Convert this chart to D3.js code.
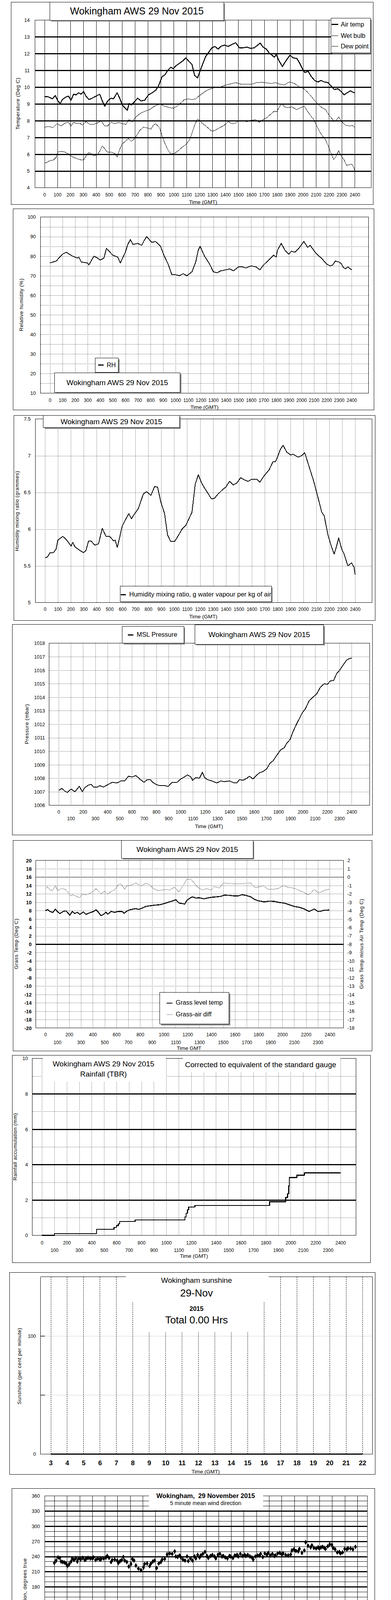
<!DOCTYPE html>
<html><head><meta charset="utf-8">
<script src="https://cdn.jsdelivr.net/npm/d3@7"></script>
<style>
html,body{margin:0;padding:0;background:#fff;overflow:hidden;}
svg{display:block;font-family:"Liberation Sans",Arial,Helvetica,sans-serif;}
</style></head><body>
<svg id="c" width="1000" height="5000"></svg>
<script>
// ======================= DATA =======================
const hundreds = d3.range(0, 2401, 100);            // time ticks 0..2400 (GMT, hhmm)
const titleAWS = "Wokingham AWS 29 Nov 2015";

// Panel 1: temperatures [time hhmm-ish, degC]
const airTemp = [[0,9.42],[23,9.44],[42,9.38],[62,9.3],[85,9.5],[104,9.18],[123,9.02],[139,9.26],[168,9.42],[187,9.46],[206,9.22],[226,9.58],[245,9.54],[264,9.66],[284,9.58],[303,9.74],[322,9.46],[345,9.26],[370,9.34],[399,9.46],[428,9.58],[448,9.18],[467,8.86],[490,9.18],[515,9.34],[534,9.3],[563,9.66],[583,9.34],[602,8.94],[621,8.78],[641,8.62],[656,9.02],[673,8.94],[698,9.14],[722,9.34],[747,9.18],[776,9.22],[805,9.54],[833,9.66],[862,9.82],[882,10.06],[911,10.63],[934,10.75],[953,10.99],[978,11.19],[997,11.1],[1017,11.27],[1046,11.43],[1075,11.59],[1094,11.75],[1117,11.55],[1142,11.35],[1162,10.7],[1185,10.55],[1200,10.87],[1223,11.35],[1248,11.83],[1273,12.1],[1296,12.35],[1319,12.43],[1344,12.27],[1364,12.43],[1393,12.51],[1422,12.43],[1451,12.55],[1480,12.65],[1508,12.35],[1538,12.35],[1566,12.39],[1596,12.31],[1624,12.35],[1644,12.47],[1669,12.63],[1692,12.39],[1717,12.27],[1740,12.03],[1760,11.91],[1779,11.79],[1794,11.95],[1814,11.59],[1841,11.23],[1860,11.47],[1885,11.75],[1900,11.91],[1924,11.75],[1953,11.71],[1972,11.47],[1995,11.11],[2015,10.87],[2040,10.95],[2065,10.63],[2092,10.39],[2117,10.31],[2141,10.4],[2165,10.31],[2194,10.27],[2219,10.06],[2242,9.86],[2271,9.9],[2296,9.74],[2319,9.54],[2342,9.66],[2367,9.78],[2386,9.7],[2400,9.66]];
const wetBulb = [[0,7.61],[33,7.65],[66,7.59],[96,7.82],[129,7.69],[162,7.86],[187,7.9],[206,7.69],[226,7.9],[255,7.82],[274,7.86],[293,7.73],[322,7.94],[351,7.78],[380,7.78],[409,7.86],[438,7.98],[467,7.69],[490,7.69],[515,7.9],[544,7.82],[573,7.9],[602,7.82],[631,7.78],[654,8.06],[679,7.94],[708,8.22],[747,8.46],[785,8.58],[814,8.66],[843,8.82],[872,8.94],[901,8.98],[930,8.86],[968,8.78],[997,8.74],[1026,8.86],[1055,9.06],[1084,9.26],[1113,9.3],[1142,9.26],[1171,9.3],[1200,9.5],[1229,9.66],[1258,9.82],[1287,9.9],[1316,9.98],[1354,9.98],[1393,10.1],[1432,10.18],[1480,10.27],[1519,10.18],[1566,10.18],[1605,10.18],[1644,10.27],[1683,10.29],[1721,10.25],[1760,10.22],[1789,10.27],[1818,10.18],[1856,10.13],[1895,10.31],[1934,10.22],[1972,10.02],[2001,9.94],[2030,9.74],[2059,9.5],[2088,9.22],[2117,8.98],[2146,8.78],[2175,8.66],[2204,8.3],[2223,8.14],[2242,7.94],[2261,8.06],[2277,8.22],[2300,7.94],[2329,7.73],[2358,7.69],[2386,7.7],[2400,7.61]];
const dewPoint = [[0,5.45],[23,5.53],[42,5.61],[71,5.65],[91,5.81],[104,6.13],[129,6.17],[158,6.13],[187,6.01],[206,5.89],[226,5.81],[255,5.73],[284,5.65],[303,5.65],[322,5.89],[341,6.09],[361,6.05],[380,5.89],[409,5.97],[428,6.17],[448,6.49],[467,6.33],[486,6.13],[515,6.13],[544,6.05],[563,5.81],[583,6.29],[602,6.61],[631,6.81],[650,6.93],[673,6.77],[698,6.93],[718,7.17],[737,7.41],[766,7.61],[795,7.57],[824,7.49],[843,7.73],[862,7.82],[891,7.57],[911,7.09],[930,6.69],[953,6.29],[978,6.01],[1007,6.05],[1036,6.21],[1065,6.41],[1094,6.57],[1123,6.85],[1142,7.25],[1162,7.73],[1185,8.1],[1200,8.02],[1219,7.86],[1248,7.69],[1277,7.49],[1296,7.37],[1316,7.41],[1354,7.57],[1393,7.73],[1422,7.94],[1451,7.82],[1480,7.86],[1505,8.02],[1538,7.98],[1566,7.94],[1596,8.02],[1634,8.06],[1663,7.9],[1692,8.06],[1721,8.18],[1750,8.38],[1779,8.58],[1798,8.53],[1821,8.86],[1837,9.02],[1856,8.82],[1885,8.78],[1914,8.82],[1953,8.66],[1982,8.78],[2011,8.86],[2030,8.62],[2059,8.3],[2084,8.06],[2107,7.69],[2130,7.33],[2155,7.05],[2175,6.85],[2194,6.53],[2213,6.13],[2238,5.69],[2252,5.81],[2277,6.21],[2296,5.89],[2319,5.65],[2338,5.33],[2358,5.37],[2377,5.41],[2392,5.24],[2400,5.04]];
const tempTicks = d3.range(4, 15, 1);

// Panel 2: relative humidity (%)
const relHum = [[0,76.5],[50,77.5],[100,81],[130,82],[180,80],[220,79],[230,79.5],[250,77],[300,76.5],[310,75.5],[350,80],[380,79],[400,78],[430,79],[450,84],[500,80.5],[540,79.5],[560,76.5],[600,82],[620,86],[640,88.5],[660,86],[700,86.5],[730,85.5],[750,88],[770,90],[810,87],[840,87.5],[880,85],[910,80],[940,76],[970,70.5],[1000,70.5],[1030,70],[1060,71],[1090,70],[1130,72],[1160,77],[1180,83],[1195,85],[1230,80],[1270,76],[1300,72],[1330,71.5],[1360,72.5],[1400,73],[1430,73.5],[1460,72.5],[1500,74.5],[1530,74.5],[1560,74],[1600,75],[1640,74.5],[1670,73],[1700,75.5],[1740,78],[1780,80.5],[1800,79.5],[1810,83],[1840,86.5],[1870,83],[1900,81],[1920,82.5],[1950,82],[1980,84],[2020,87.5],[2050,84.5],[2070,85.5],[2110,82],[2140,80],[2160,79],[2200,76],[2230,75],[2250,75.5],[2270,77.5],[2300,77],[2320,76],[2330,74.5],[2350,73.5],[2370,74.5],[2400,73]];
const rhTicks = d3.range(10, 101, 10);

// Panel 3: humidity mixing ratio (g/kg)
const mixRatio = [[0,5.61],[20,5.62],[40,5.68],[67,5.68],[87,5.73],[100,5.85],[116,5.87],[139,5.9],[164,5.86],[203,5.77],[216,5.82],[232,5.76],[270,5.71],[299,5.68],[318,5.71],[338,5.84],[357,5.84],[386,5.78],[415,5.8],[444,6.01],[473,5.9],[502,5.9],[531,5.84],[544,5.85],[560,5.75],[579,5.89],[598,6.04],[627,6.14],[650,6.21],[669,6.14],[695,6.21],[723,6.28],[762,6.48],[787,6.51],[820,6.46],[849,6.58],[872,6.57],[897,6.37],[926,6.21],[949,5.92],[974,5.83],[1003,5.83],[1032,5.91],[1061,6.0],[1090,6.05],[1109,6.12],[1138,6.23],[1163,6.61],[1187,6.74],[1212,6.63],[1235,6.56],[1264,6.48],[1289,6.41],[1312,6.42],[1341,6.48],[1376,6.54],[1399,6.57],[1428,6.65],[1457,6.6],[1486,6.63],[1515,6.7],[1544,6.67],[1572,6.65],[1601,6.68],[1640,6.68],[1663,6.64],[1698,6.73],[1736,6.81],[1765,6.92],[1785,6.92],[1810,7.03],[1823,7.09],[1843,7.14],[1871,7.05],[1900,7.01],[1920,7.02],[1958,6.98],[1987,7.0],[2010,7.04],[2032,6.92],[2055,6.79],[2080,6.65],[2107,6.47],[2142,6.23],[2161,6.18],[2190,5.92],[2219,5.75],[2238,5.66],[2257,5.77],[2273,5.88],[2296,5.73],[2315,5.66],[2344,5.5],[2373,5.54],[2392,5.48],[2400,5.38]];
const mixTicks = [5, 5.5, 6, 6.5, 7, 7.5];

// Panel 4: MSL pressure (mbar)
const pressure = [[0,1007.1],[27,1007.25],[51,1007.05],[71,1006.95],[102,1007.2],[133,1007.0],[170,1007.4],[194,1007.0],[214,1007.3],[245,1007.5],[266,1007.55],[286,1007.35],[317,1007.35],[337,1007.45],[368,1007.35],[398,1007.5],[439,1007.7],[480,1007.65],[511,1007.8],[541,1007.8],[572,1008.15],[603,1008.1],[633,1008.2],[664,1007.95],[700,1007.7],[725,1007.9],[752,1007.9],[770,1007.7],[797,1007.55],[827,1007.45],[868,1007.45],[899,1007.4],[929,1007.7],[970,1007.7],[1001,1007.95],[1031,1008.1],[1056,1008.25],[1083,1008.1],[1097,1007.85],[1123,1008.05],[1154,1008.0],[1178,1008.45],[1195,1008.05],[1219,1007.9],[1256,1007.8],[1297,1007.65],[1328,1007.8],[1358,1007.75],[1399,1007.8],[1440,1007.65],[1460,1007.65],[1481,1007.9],[1511,1007.85],[1542,1008.0],[1562,1008.15],[1593,1007.95],[1614,1008.15],[1644,1008.4],[1675,1008.5],[1705,1008.7],[1730,1009.1],[1757,1009.3],[1787,1009.7],[1818,1010.1],[1848,1010.25],[1869,1010.6],[1895,1010.85],[1920,1011.45],[1951,1012.05],[1971,1012.4],[1996,1012.85],[2022,1013.15],[2053,1013.75],[2083,1014.0],[2114,1014.25],[2145,1014.75],[2176,1015.0],[2200,1014.95],[2226,1015.2],[2253,1015.25],[2278,1015.75],[2302,1016.0],[2328,1016.35],[2359,1016.75],[2380,1016.85],[2400,1016.9]];
const presTicks = d3.range(1006, 1019, 1);

// Panel 5: grass temperature (degC, left axis) and grass-air difference (degC, right axis)
const grassTemp = [[0,7.95],[17,8.27],[38,7.8],[63,7.57],[84,8.37],[101,7.8],[122,7.3],[154,7.85],[175,7.95],[206,6.9],[227,7.8],[248,7.3],[269,7.6],[291,7.1],[322,7.7],[343,7.1],[375,7.5],[406,7.8],[427,8.2],[448,7.6],[469,6.8],[491,7.1],[511,7.6],[526,7.15],[554,7.8],[585,7.6],[617,7.8],[648,7.8],[665,7.37],[686,7.85],[711,8.2],[764,8.5],[785,8.27],[817,8.6],[848,9.0],[880,9.15],[922,9.3],[964,9.4],[1006,9.7],[1048,10.1],[1080,10.36],[1101,10.6],[1128,9.8],[1154,9.7],[1175,9.55],[1196,10.5],[1221,11.0],[1242,11.3],[1269,11.0],[1301,11.07],[1339,10.8],[1364,11.0],[1406,11.2],[1448,11.3],[1480,11.4],[1512,11.7],[1554,11.65],[1596,11.5],[1627,11.5],[1659,11.8],[1691,11.65],[1733,11.3],[1764,10.7],[1796,10.36],[1848,10.1],[1891,10.27],[1933,10.2],[1975,9.95],[2017,9.8],[2059,9.4],[2101,9.0],[2143,8.8],[2185,8.4],[2227,7.8],[2269,8.4],[2301,7.8],[2322,7.85],[2354,8.1],[2396,8.15]];
const grassDiff = [[0,-1.45],[17,-1.13],[38,-1.5],[59,-1.61],[84,-1.05],[105,-1.61],[133,-1.37],[168,-1.45],[189,-1.78],[210,-2.26],[227,-2.1],[259,-2.26],[286,-2.47],[312,-2.05],[343,-2.1],[375,-1.94],[406,-1.7],[427,-1.37],[448,-1.7],[469,-2.0],[501,-1.7],[526,-2.06],[554,-1.7],[585,-1.53],[617,-0.9],[638,-0.81],[669,-1.45],[691,-0.97],[722,-0.97],[764,-0.7],[806,-1.05],[848,-0.73],[880,-0.9],[911,-1.37],[953,-1.61],[1006,-1.5],[1048,-1.53],[1091,-1.21],[1128,-1.78],[1164,-0.97],[1196,-0.25],[1227,-0.25],[1248,-0.57],[1280,-1.13],[1322,-1.53],[1364,-1.37],[1396,-1.56],[1427,-1.13],[1469,-1.3],[1501,-0.7],[1554,-0.76],[1596,-0.81],[1648,-0.81],[1691,-0.73],[1733,-0.7],[1764,-1.21],[1796,-1.21],[1838,-1.02],[1880,-1.45],[1922,-1.45],[1964,-1.37],[2006,-1.02],[2048,-1.21],[2091,-1.3],[2133,-1.53],[2175,-1.78],[2217,-2.1],[2238,-1.94],[2269,-1.45],[2301,-1.86],[2332,-1.78],[2354,-1.57],[2396,-1.45]];
const grassTicks = d3.range(-20, 21, 2);
const diffTicks = d3.range(-18, 3, 1);

// Panel 6: rainfall accumulation (mm), step data
const rainAcc = [[0,0],[100,0.1],[440,0.34],[580,0.45],[600,0.55],[615,0.65],[625,0.78],[750,0.87],[1145,0.87],[1150,1.05],[1160,1.25],[1170,1.45],[1180,1.6],[1230,1.69],[1830,1.9],[1960,2.14],[1975,2.35],[1985,2.8],[1990,3.27],[2050,3.4],[2110,3.53],[2400,3.53]];
const rainTicks = [0, 2, 4, 6, 8, 10];

// Panel 7: sunshine (per cent per minute) by hour
const sunHours = d3.range(3, 23, 1);
const sunshine = [[3,0],[22,0]];
const sunTicks = [0, 100];

// Panel 8: 5-minute mean wind direction [hour, degrees]
const windDir = [[0.00,227],[0.14,232],[0.29,238],[0.43,237],[0.53,230],[0.66,229],[0.80,228],[0.93,226],[1.03,221],[1.18,225],[1.32,230],[1.42,236],[1.55,233],[1.69,236],[1.82,230],[1.92,236],[2.08,234],[2.25,237],[2.41,233],[2.51,235],[2.67,237],[2.84,236],[3.00,236],[3.10,238],[3.27,233],[3.43,236],[3.60,234],[3.70,235],[3.90,236],[4.09,238],[4.19,241],[4.34,237],[4.49,229],[4.58,233],[4.78,234],[4.98,232],[5.08,227],[5.21,231],[5.34,233],[5.47,239],[5.57,232],[5.74,229],[5.90,220],[6.07,225],[6.17,235],[6.31,232],[6.46,222],[6.66,216],[6.86,213],[7.06,218],[7.15,225],[7.35,226],[7.55,221],[7.65,226],[7.80,230],[7.94,232],[8.10,217],[8.27,226],[8.44,229],[8.54,234],[8.74,235],[8.93,244],[9.13,246],[9.33,245],[9.53,250],[9.62,240],[9.77,239],[9.92,242],[10.02,238],[10.18,234],[10.35,232],[10.51,240],[10.61,231],[10.78,236],[10.94,232],[11.11,240],[11.21,236],[11.35,243],[11.50,238],[11.60,242],[11.76,245],[11.93,249],[12.09,241],[12.19,237],[12.36,241],[12.52,243],[12.69,240],[12.79,236],[12.95,243],[13.12,245],[13.28,240],[13.38,241],[13.54,238],[13.71,236],[13.87,241],[13.97,240],[14.14,237],[14.30,242],[14.47,243],[14.57,240],[14.73,245],[14.90,241],[15.06,243],[15.16,241],[15.32,243],[15.49,240],[15.65,238],[15.75,234],[15.92,240],[16.08,242],[16.25,242],[16.34,245],[16.51,239],[16.67,246],[16.84,243],[16.94,247],[17.10,242],[17.27,245],[17.43,241],[17.53,242],[17.69,246],[17.86,247],[18.02,244],[18.12,246],[18.32,243],[18.52,242],[18.72,244],[18.81,252],[18.98,254],[19.14,251],[19.31,250],[19.41,255],[19.61,247],[19.80,252],[19.90,268],[20.10,261],[20.30,258],[20.40,262],[20.56,257],[20.73,256],[20.89,258],[20.99,256],[21.12,258],[21.25,259],[21.38,257],[21.48,255],[21.65,260],[21.81,264],[21.98,263],[22.08,257],[22.24,254],[22.41,248],[22.57,249],[22.67,246],[22.83,248],[23.00,255],[23.16,254],[23.26,256],[23.46,256],[23.65,254],[23.85,259]];
const dirTicks = d3.range(0, 361, 30);
const dirHours = d3.range(0, 25, 1);

// Panel 9: wind speed (knots)
const windMeanT = [0,0.2,0.4,0.6,0.8,1.0,1.2,1.4,1.6,1.75,1.9,2.1,2.3,2.5,2.7,2.9,3.1,3.3,3.5,3.6,3.8,4.0,4.2,4.4,4.6,4.8,5.0,5.1,5.3,5.5,5.7,5.8,6.0,6.2,6.4,6.6,6.8,7.0,7.2,7.4,7.6,7.8,8.0,8.2,8.4,8.6,8.8,9.0,9.1,9.3,9.5,9.7,9.9,10.1,10.3,10.5,10.7,10.9,11.1,11.3,11.5,11.7,11.8,12.0,12.2,12.4,12.6,12.8,13.0,13.2,13.4,13.6,13.7,13.9,14.1,14.3,14.5,14.7,14.9,15.1,15.3,15.5,15.7,15.9,16.1,16.3,16.5,16.7,16.9,17.1,17.3,17.5,17.7,17.9,18.1,18.3,18.5,18.7,18.9,19.1,19.3,19.5,19.7,19.9,20.0,20.2,20.4,20.6,20.8,21.0,21.2,21.4,21.6,21.8,22.0,22.2,22.4,22.6,22.8,23.0,23.2,23.4,23.6,23.8];
const windMean = [11.2,11.8,12.6,11.0,11.2,12.3,11.2,12.3,12.6,10.4,12.3,12.3,12.9,13.9,12.6,13.1,14.2,12.9,13.7,11.0,10.7,12.0,11.5,9.9,11.2,9.9,10.4,8.5,10.2,11.5,12.9,14.5,11.2,10.2,7.2,11.8,9.7,9.6,11.8,12.6,12.0,13.4,14.5,11.5,12.9,15.8,16.4,18.0,13.7,16.4,15.0,14.7,13.9,14.7,13.7,16.1,15.6,15.8,14.7,16.4,14.7,12.9,14.5,15.6,17.4,16.6,16.1,15.0,16.6,18.3,17.2,14.5,16.6,18.8,17.4,19.3,18.3,19.1,17.7,18.8,16.1,17.2,18.5,17.7,18.3,18.0,19.1,19.9,17.7,16.4,14.2,15.6,16.1,15.8,13.9,14.7,14.2,12.9,14.5,12.6,13.4,12.3,13.1,9.1,6.4,11.0,9.9,10.2,8.8,9.3,10.7,9.3,10.4,10.4,9.6,11.0,10.7,9.6,11.5,11.0,11.8,10.7,10.4,10.4];
const gustStepHours = 0.1; // gusts sampled every 6 minutes from 00:00
const windGust = [
 21,15,19,14,20,16,18,14,21,15,
 17,13,19,14,20,15,18,13,19,16,
 22,15,19,16,23,14,20,17,22,15,
 20,13,17,11,21,14,18,12,17,11,
 15,10,17,12,14,10,16,11,15,12,
 17,11,18,13,20,14,22,16,25,15,
 18,11,14,9,12,8,20,10,17,12,
 26,14,22,15,23,17,20,14,23,16,
 19,15,22,17,24,18,27,19,33,20,
 28,15,26,17,24,16,22,14,25,15,
 22,13,26,16,24,12,27,17,23,16,
 25,15,29,18,22,17,24,16,27,19,
 26,17,30,19,28,20,33,21,25,17,
 27,19,34,21,29,18,28,20,37,22,
 33,24,30,21,33,22,29,24,35,26,
 31,23,33,22,34,21,30,23,32,24,
 33,23,34,22,32,24,36,22,30,21,
 29,20,31,18,27,19,30,20,27,18,
 28,18,25,16,27,17,25,15,24,16,
 25,15,22,16,24,14,21,13,20,10,
 8,14,23,13,20,12,18,13,22,12,
 17,11,19,12,16,11,18,12,19,13,
 17,12,19,13,18,14,25,13,18,14,
 20,13,18,12,19,14,17,12,19,18];
const speedTicks = d3.range(0, 51, 10);
const speedHours = d3.range(0, 24, 1);

// ======================= HELPERS =======================
const FONT = '"Liberation Sans", Arial, Helvetica, sans-serif';
const svg = d3.select('#c').append('g');

function rect(x0, y0, x1, y1, o = {}) {
  return svg.append('rect').attr('x', x0).attr('y', y0).attr('width', x1 - x0).attr('height', y1 - y0)
    .attr('fill', o.fill || 'none').attr('stroke', o.stroke || 'none').attr('stroke-width', o.sw || 1)
    .attr('shape-rendering', 'crispEdges');
}
function box(x0, y0, x1, y1) {
  rect(x0 + 3, y0 + 3, x1 + 3, y1 + 3, { fill: '#8a8a8a' });
  rect(x0, y0, x1, y1, { fill: '#fff', stroke: '#000' });
}
function txt(x, y, s, size, o = {}) {
  return svg.append('text').attr('x', x).attr('y', y).attr('dy', '0.35em')
    .attr('text-anchor', o.anchor || 'middle').attr('font-size', size)
    .attr('font-weight', o.bold ? 'bold' : 'normal').attr('fill', o.fill || '#000')
    .attr('letter-spacing', o.ls || 0).style('white-space', 'pre').text(s);
}
function vtxt(x, y, s, size = 13) {
  return svg.append('text').attr('transform', `translate(${x},${y}) rotate(-90)`)
    .attr('text-anchor', 'middle').attr('dy', '0.35em').attr('font-size', size)
    .attr('letter-spacing', 0.6).text(s);
}
function seg(x1, y1, x2, y2, o = {}) {
  return svg.append('line').attr('x1', x1).attr('y1', y1).attr('x2', x2).attr('y2', y2)
    .attr('stroke', o.stroke || '#000').attr('stroke-width', o.sw || 1)
    .attr('stroke-dasharray', o.dash || null).attr('shape-rendering', 'crispEdges');
}
function hGrid(y, vals, x0, x1, o = {}) {
  svg.append('g').selectAll('line').data(vals).join('line')
    .attr('x1', x0).attr('x2', x1).attr('y1', d => Math.round(y(d)) + 0.5).attr('y2', d => Math.round(y(d)) + 0.5)
    .attr('stroke', o.stroke || '#000').attr('stroke-width', o.sw || 1)
    .attr('stroke-dasharray', o.dash || null).attr('shape-rendering', 'crispEdges');
}
function vGrid(x, vals, y0, y1, o = {}) {
  svg.append('g').selectAll('line').data(vals).join('line')
    .attr('y1', y0).attr('y2', y1).attr('x1', d => Math.round(x(d)) + 0.5).attr('x2', d => Math.round(x(d)) + 0.5)
    .attr('stroke', o.stroke || '#000').attr('stroke-width', o.sw || 1)
    .attr('stroke-dasharray', o.dash || null).attr('shape-rendering', 'crispEdges');
}
function xLabels(x, vals, yc, fmt, size = 12, bold = false) {
  const g = svg.append('g').attr('transform', `translate(0,${yc})`)
    .call(d3.axisBottom(x).tickValues(vals).tickSize(0).tickPadding(0).tickFormat(fmt));
  g.select('.domain').remove();
  g.attr('font-family', FONT).attr('font-size', size).attr('font-weight', bold ? 'bold' : 'normal');
  g.selectAll('text').attr('y', 0).attr('dy', '0.35em').attr('fill', '#000');
}
function yLabels(y, vals, xe, fmt, size = 12, bold = false, right = false) {
  const ax = right ? d3.axisRight(y) : d3.axisLeft(y);
  const g = svg.append('g').attr('transform', `translate(${xe},0)`)
    .call(ax.tickValues(vals).tickSize(0).tickPadding(0).tickFormat(fmt));
  g.select('.domain').remove();
  g.attr('font-family', FONT).attr('font-size', size).attr('font-weight', bold ? 'bold' : 'normal');
  g.selectAll('text').attr('x', 0).attr('dy', '0.35em').attr('fill', '#000');
}
function path(data, x, y, o = {}) {
  const ln = d3.line().x(d => x(d[0])).y(d => y(d[1]));
  if (o.curve) ln.curve(o.curve);
  return svg.append('path').datum(data).attr('d', ln).attr('fill', 'none')
    .attr('stroke', o.stroke || '#000').attr('stroke-width', o.sw || 1).attr('stroke-linejoin', 'round')
    .attr('shape-rendering', 'crispEdges');
}
const fmtS = d => String(d);
const even = hundreds.filter(d => d % 200 === 0);
const odd = hundreds.filter(d => d % 200 !== 0);

// ======================= PANEL 1: Temperature =======================
{
  rect(28.5, 5.5, 954.5, 523.5, { stroke: '#000' });
  const L = 89.5, R = 949.5, T = 51.5, B = 480.5;
  const x = d3.scaleLinear().domain([0, 2400]).range([113.5, 907]);
  const y = d3.scaleLinear().domain([4, 14]).range([B, T]);
  vGrid(x, hundreds, T, B);
  hGrid(y, tempTicks.filter(d => d > 4 && d < 14), L, R, { sw: 3 });
  rect(L, T, R, B, { stroke: '#000' });
  yLabels(y, tempTicks, 76, fmtS, 12.5);
  xLabels(x, hundreds, 499, fmtS, 12);
  txt((L + R) / 2, 517, 'Time (GMT)', 13.5);
  vtxt(45, 265, 'Temperature (Deg C)');
  box(127.5, 5.5, 572, 52);
  txt(350, 28, titleAWS, 25);
  path(dewPoint, x, y, { sw: 1 });
  path(wetBulb, x, y, { sw: 1 });
  path(airTemp, x, y, { sw: 2.5 });
  box(846.5, 46.5, 947.5, 135);
  const leg = [['Air temp', 2.5, 62.7], ['Wet bulb', 1, 91.7], ['Dew point', 1, 118.3]];
  leg.forEach(([s, w, yy]) => { seg(848, yy, 865, yy, { sw: w }); txt(871.5, yy, s, 16, { anchor: 'start' }); });
}

// ======================= PANEL 2: RH =======================
{
  rect(33.5, 534.5, 956.5, 1049.5, { stroke: '#000' });
  const L = 103.5, R = 942.5, T = 555.5, B = 1006.5;
  const x = d3.scaleLinear().domain([0, 2400]).range([127.6, 899.3]);
  const y = d3.scaleLinear().domain([10, 100]).range([B, T]);
  vGrid(x, hundreds, T, B, { dash: '1,2' });
  hGrid(y, d3.range(15, 100, 5), L, R, { dash: '1,2' });
  rect(L, T, R, B, { stroke: '#000' });
  yLabels(y, rhTicks, 91.5, fmtS, 12.5);
  xLabels(x, hundreds, 1025, fmtS, 12);
  txt(523, 1042.5, 'Time (GMT)', 13.5);
  vtxt(54, 780, 'Relative humidity (%)');
  path(relHum, x, y, { sw: 2 });
  box(243.5, 916.5, 302.5, 953);
  seg(250.5, 934.7, 264.5, 934.7, { sw: 2.5 });
  txt(273, 934.7, 'RH', 16, { anchor: 'start' });
  box(139.5, 954.5, 460.5, 1004.5);
  txt(300, 979.5, titleAWS, 19);
}

// ======================= PANEL 3: Mixing ratio =======================
{
  rect(35.5, 1063.5, 959.5, 1588.5, { stroke: '#000' });
  const L = 90.5, R = 951.5, T = 1072.5, B = 1542.5;
  const x = d3.scaleLinear().domain([0, 2400]).range([114.8, 908.2]);
  const y = d3.scaleLinear().domain([5, 7.5]).range([B, T]);
  vGrid(x, hundreds, T, B, { dash: '1,2' });
  hGrid(y, [5.5, 6, 6.5, 7], L, R, { dash: '1,2' });
  rect(L, T, R, B, { stroke: '#000' });
  yLabels(y, mixTicks, 78.5, fmtS, 12.5);
  xLabels(x, hundreds, 1560, fmtS, 12);
  txt(520, 1578, 'Time (GMT)', 13.5);
  vtxt(43.5, 1308, 'Humidity mixing ratio (grammes)');
  path(mixRatio, x, y, { sw: 2 });
  box(110.5, 1063.5, 459, 1094.5);
  txt(284.8, 1079.5, titleAWS, 19);
  box(307.5, 1500.5, 694, 1540.5);
  seg(308.5, 1522.5, 322, 1522.5, { sw: 2.5 });
  txt(330.5, 1521.5, 'Humidity mixing ratio, g water vapour per kg of air', 16.5, { anchor: 'start' });
}

// ======================= PANEL 4: Pressure =======================
{
  rect(31.5, 1598.5, 952.5, 2137.5, { stroke: '#000' });
  const L = 125.5, R = 945.5, T = 1646.5, B = 2061.5;
  const x = d3.scaleLinear().domain([0, 2400]).range([149.9, 899.3]);
  const y = d3.scaleLinear().domain([1006, 1018]).range([B, T]);
  vGrid(x, hundreds, T, B, { dash: '1,2' });
  hGrid(y, d3.range(1007, 1018, 1), L, R, { dash: '1,2' });
  rect(L, T, R, B, { stroke: '#000' });
  yLabels(y, presTicks, 115, fmtS, 12.5);
  xLabels(x, even, 2079, fmtS, 12);
  xLabels(x, odd, 2095.6, fmtS, 12);
  txt(534.5, 2115, 'Time (GMT)', 13.5);
  vtxt(68.2, 1853.5, 'Pressure (mbar)');
  path(pressure, x, y, { sw: 2 });
  box(312.5, 1603.5, 470, 1646.8);
  seg(327, 1625.5, 341, 1625.5, { sw: 2.5 });
  txt(349.5, 1624.5, 'MSL Pressure', 16.5, { anchor: 'start' });
  box(498.8, 1599.6, 827.9, 1649);
  txt(663, 1624.4, titleAWS, 19);
}

// ======================= PANEL 5: Grass temperature =======================
{
  rect(33.5, 2151.5, 951.5, 2690.5, { stroke: '#000' });
  const L = 91.5, R = 878.5, T = 2202.5, B = 2631.5;
  const x = d3.scaleLinear().domain([0, 2400]).range([116.1, 843.2]);
  const y = d3.scaleLinear().domain([-20, 20]).range([B, T]);
  const yR = d3.scaleLinear().domain([-18, 2]).range([B, T]);
  vGrid(x, hundreds, T, B, { dash: '1,2' });
  hGrid(y, grassTicks.filter(d => d > -20 && d < 20 && d !== 16 && d !== 0), L, R, { dash: '1,2' });
  hGrid(y, [16], L, R, { sw: 1 });
  hGrid(y, [0], L, R, { sw: 2.5 });
  rect(L, T, R, B, { stroke: '#000' });
  yLabels(y, grassTicks, 81, fmtS, 13, true);
  yLabels(yR, diffTicks, 888.5, fmtS, 12.5, false, true);
  xLabels(x, even, 2649, fmtS, 12);
  xLabels(x, odd, 2669, fmtS, 12);
  txt(483.5, 2683.4, 'Time GMT', 13.5);
  vtxt(41.5, 2416, 'Grass Temp (Deg C)');
  vtxt(924.8, 2416, 'Grass Temp minus Air Temp (Deg C)');
  path(grassDiff, x, yR, { sw: 1, stroke: '#808080' });
  path(grassTemp, x, y, { sw: 2.5 });
  box(310.6, 2151.5, 647.4, 2197.2);
  txt(479, 2174, titleAWS, 19);
  box(408.5, 2540.5, 585.5, 2621.8);
  seg(426, 2568, 441, 2568, { sw: 2.5 });
  txt(449.6, 2566.7, 'Grass level temp', 16, { anchor: 'start' });
  seg(426, 2597, 441, 2597, { sw: 1, stroke: '#808080' });
  txt(449.6, 2596.7, 'Grass-air diff', 16, { anchor: 'start' });
}

// ======================= PANEL 6: Rainfall =======================
{
  rect(31.5, 2701.5, 947.5, 3232.5, { stroke: '#000' });
  const L = 82.5, R = 910.5, T = 2709.5, B = 3162.5;
  const x = d3.scaleLinear().domain([0, 2400]).range([107.1, 870.6]);
  const y = d3.scaleLinear().domain([0, 10]).range([B, T]);
  vGrid(x, hundreds, T, B, { dash: '1,2' });
  hGrid(y, [1, 3, 5, 7, 9], L, R, { dash: '1,2' });
  hGrid(y, [2, 4, 6, 8], L, R, { sw: 3 });
  rect(L, T, R, B, { stroke: '#000' });
  rect(108.5, 2708, 424, 2770, { fill: '#fff' });
  rect(467.5, 2708, 870.5, 2746, { fill: '#fff' });
  yLabels(y, rainTicks, 71.5, fmtS, 12.5);
  xLabels(x, even, 3181.8, fmtS, 12);
  xLabels(x, odd, 3201, fmtS, 12);
  txt(496, 3215.7, 'Time (GMT)', 13.5);
  vtxt(38.3, 2935.5, 'Rainfall accumulation (mm)');
  txt(264.7, 2723.7, titleAWS, 19);
  txt(264.7, 2749.5, 'Rainfall (TBR)', 19);
  txt(666.5, 2725.4, 'Corrected to equivalent of the standard gauge', 19);
  path(rainAcc, x, y, { sw: 2.5, curve: d3.curveStepAfter });
}

// ======================= PANEL 7: Sunshine =======================
{
  rect(24.5, 3257.5, 959.5, 3774.5, { stroke: '#000' });
  const L = 103.5, R = 952.5, T = 3268.5, B = 3722.5;
  const x = d3.scaleLinear().domain([3, 22]).range([129.5, 926.7]);
  const y = d3.scaleLinear().domain([0, 150]).range([B, T]);
  hGrid(y, [50, 100], L, R, { dash: '1,1', stroke: '#aaa' });
  vGrid(x, sunHours, T, B, { dash: '3,2' });
  seg(L, T, L, B); seg(R, T, R, B); seg(L, B, R, B);
  seg(L, T, 322, T); seg(687, T, R, T);
  rect(322, 3266, 687, 3333, { fill: '#fff' });
  rect(345, 3333, 668, 3410, { fill: '#fff' });
  svg.append('g').selectAll('line').data([50, 100]).join('line')
    .attr('x1', L).attr('x2', L + 11.5).attr('y1', d => Math.round(y(d)) + 0.5).attr('y2', d => Math.round(y(d)) + 0.5)
    .attr('stroke', '#000').attr('stroke-width', 1.5);
  yLabels(y, sunTicks, 92, fmtS, 12.5);
  xLabels(x, sunHours, 3745, fmtS, 17, true);
  txt(526, 3767.6, 'Time (GMT)', 13.5);
  vtxt(49.7, 3497, 'Sunshine (per cent per minute)');
  txt(502.6, 3277.5, 'Wokingham sunshine', 19);
  txt(502.6, 3309.6, '29-Nov', 26);
  txt(502.6, 3350.7, '2015', 16, { bold: true });
  txt(502.6, 3379.2, 'Total 0.00 Hrs', 26);
  path(sunshine, x, y, { sw: 3 });
}

// ======================= PANEL 8: Wind direction =======================
{
  rect(30.5, 3810.5, 958.5, 4344.5, { stroke: '#000' });
  const L = 114.5, R = 939.5, T = 3829.5, B = 4294.5;
  const x = d3.scaleLinear().domain([0, 24]).range([139, 914]);
  const y = d3.scaleLinear().domain([0, 360]).range([B, T]);
  hGrid(y, d3.range(10, 360, 10).filter(d => d % 30 !== 0), L, R);
  hGrid(y, dirTicks.filter(d => d > 0 && d < 360), L, R, { sw: 3 });
  vGrid(x, dirHours, T, B);
  rect(L, T, R, B, { stroke: '#000' });
  rect(381, 3827, 673, 3866.3, { fill: '#fff' });
  yLabels(y, dirTicks, 102, fmtS, 12.5);
  xLabels(x, dirHours, 4314, fmtS, 12);
  txt(526, 4331.3, 'Time (GMT)', 13.5);
  vtxt(63.8, 4061.5, 'Direction, degrees true');
  txt(526, 3829, 'Wokingham,  29 November 2015', 16.5, { bold: true });
  txt(526, 3848.3, '5 minute mean wind direction', 14);
  svg.append('g').selectAll('path').data(windDir).join('path')
    .attr('transform', d => `translate(${x(d[0])},${y(d[1])})`)
    .attr('d', d3.symbol(d3.symbolDiamond, 48)).attr('fill', '#000').attr('shape-rendering', 'crispEdges');
}

// ======================= PANEL 9: Wind speed =======================
{
  rect(31.5, 4359.5, 959.5, 4874.5, { stroke: '#000' });
  const L = 90.5, R = 953.5, T = 4403.5, B = 4799.5;
  const x = d3.scaleLinear().domain([0, 23]).range([114.8, 875.1]);
  const y = d3.scaleLinear().domain([0, 50]).range([B, T]);
  hGrid(y, d3.range(5, 50, 5), L, R, { dash: '1,2' });
  vGrid(x, speedHours, T, B, { dash: '1,2' });
  seg(L, T, L, B); seg(R, T, R, B); seg(L, B, R, B); seg(437, T, R, T);
  yLabels(y, speedTicks, 78.5, fmtS, 12.5);
  const hf = d => (d < 10 ? '0' : '') + d + ':00';
  xLabels(x, speedHours.filter(d => d % 2 === 0), 4817, hf, 12);
  xLabels(x, speedHours.filter(d => d % 2 === 1), 4833.3, hf, 12);
  txt(521.7, 4851.3, 'Time (GMT)', 13.5);
  vtxt(45.9, 4601.3, 'Speed (knots)');
  txt(264.7, 4383.4, 'Wokingham,  29 November 2015', 19);
  txt(576, 4371.4, 'Wind speed, 10 min mean / max gust', 14);
  txt(576, 4389.8, 'Speeds below 4 kt shown at x10 scale', 14);
  const gust = windGust.map((v, i) => [i * gustStepHours, v]);
  path(gust, x, y, { sw: 1, stroke: '#555' });
  path(windMeanT.map((t, i) => [t, windMean[i]]), x, y, { sw: 2.2 });
  box(730.5, 4365.5, 955, 4393.5);
  seg(762, 4381, 774.5, 4381, { sw: 2.5 });
  txt(782.6, 4380, 'Speed x 1', 11, { anchor: 'start' });
  svg.append('path').attr('transform', 'translate(855,4380.5)').attr('d', d3.symbol(d3.symbolDiamond, 30))
    .attr('fill', '#ccc').attr('stroke', '#555');
  txt(867.5, 4380, 'Speed /10', 11, { anchor: 'start' });
}
</script>
</body></html>
